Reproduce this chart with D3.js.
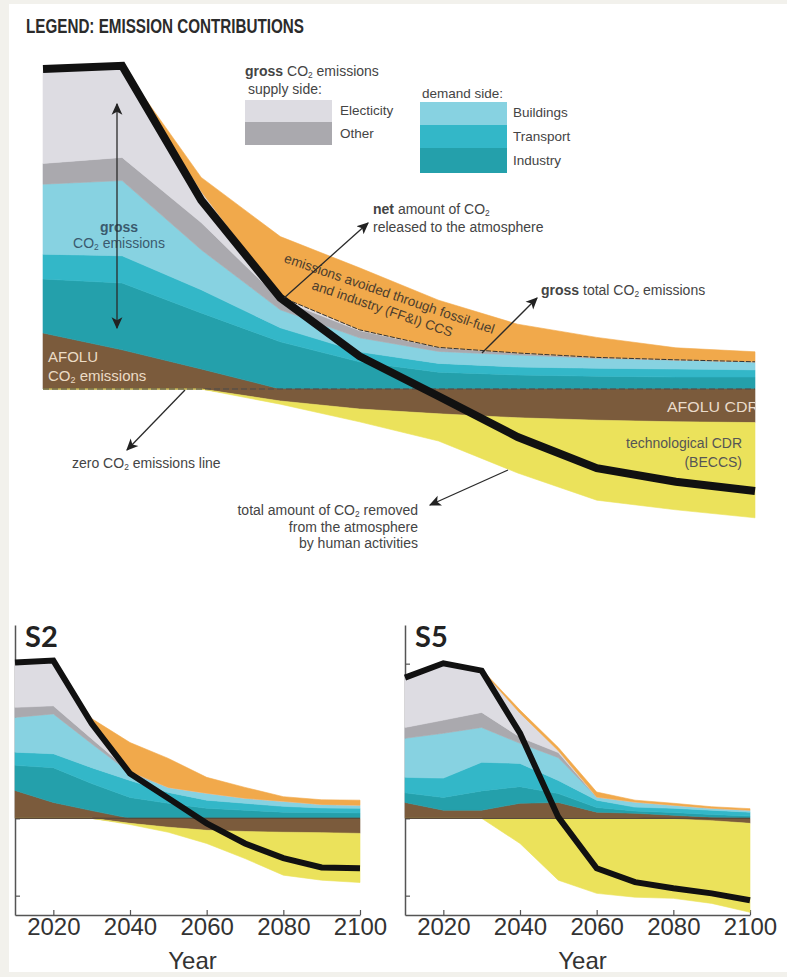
<!DOCTYPE html>
<html>
<head>
<meta charset="utf-8">
<script src="https://cdn.jsdelivr.net/npm/d3@7"></script>
<style>
  body { margin: 0; background: #fff; }
  svg { display: block; font-family: "Liberation Sans", Arial, sans-serif; }
</style>
</head>
<body>
<svg id="chart" width="787" height="977"></svg>
<script>
// ---- data (GtCO2/yr, schematic pathways) ----
const years = [2010, 2020, 2030, 2040, 2050, 2060, 2070, 2080, 2090, 2100];
const tickYears = [2020, 2040, 2060, 2080, 2100];

// Legend pathway
const topAfoluEmis   = [7.0, 4.9, 2.5, 0, 0, 0, 0, 0, 0, 0];
const topIndustry    = [6.75, 8.35, 7.0, 5.9, 3.4, 2.1, 1.75, 1.6, 1.5, 1.5];
const topTransport   = [3.1, 3.4, 2.9, 1.75, 1.25, 1.1, 1.0, 1.0, 1.0, 0.9];
const topBuildings   = [8.75, 9.4, 5.0, 2.25, 1.75, 1.5, 1.5, 1.25, 1.1, 1.0];
const topOther       = [2.6, 2.9, 3.4, 1.25, 0.9, 0.5, 0.25, 0.1, 0.05, 0];
const topElectricity = [11.6, 11.4, 3.9, 0.4, 0.1, 0, 0, 0, 0, 0];
const topCcs         = [0, 0, 1.75, 7.5, 7.75, 5.9, 3.6, 2.5, 1.5, 1.25];
const topAfoluCdr    = [0, 0, 0, -1.5, -2.5, -3.1, -3.6, -3.9, -4.1, -4.2];
const topBeccs       = [0, 0, 0, -0.4, -1.6, -3.4, -6.9, -10.0, -11.0, -11.9];
const topNet         = [40.0, 40.4, 23.6, 11.4, 4.1, -0.9, -6.0, -9.9, -11.6, -12.75];

// Scenario S2
const s2AfoluEmis   = [7.2, 4.1, 2.0, 0, 0, 0, 0, 0, 0, 0];
const s2Industry    = [6.5, 9.0, 7.0, 5.4, 3.9, 2.6, 2.1, 1.6, 1.5, 1.4];
const s2Transport   = [3.4, 3.6, 4.1, 4.4, 2.8, 2.1, 1.8, 1.5, 1.2, 1.2];
const s2Buildings   = [9.0, 10.3, 6.2, 2.0, 1.3, 1.8, 1.3, 1.3, 0.9, 0.8];
const s2Other       = [2.6, 2.1, 1.3, 0.3, 0, 0, 0, 0, 0, 0];
const s2Electricity = [11.4, 11.4, 4.4, 0, 0, 0, 0, 0, 0, 0];
const s2Ccs         = [0, 0, 0.8, 7.5, 7.5, 4.1, 2.8, 1.2, 1.2, 1.3];
const s2AfoluCdr    = [0, 0, 0, -1.3, -2.3, -3.1, -3.4, -3.6, -3.7, -3.9];
const s2Beccs       = [0, 0, 0, -0.3, -1.3, -3.4, -7.0, -11.1, -12.3, -12.7];
const s2Net         = [40.3, 40.8, 24.5, 11.6, 5.2, -1.3, -6.5, -10.3, -12.7, -12.9];

// Scenario S5
const s5AfoluEmis   = [4.1, 2.1, 2.1, 3.9, 4.1, 1.6, 1.3, 0.8, 0.3, 0];
const s5Industry    = [2.5, 3.3, 5.0, 4.3, 2.3, 1.2, 0.6, 0.7, 0.7, 0.6];
const s5Transport   = [4.0, 5.0, 7.4, 6.0, 3.4, 1.9, 1.0, 1.1, 1.1, 1.0];
const s5Buildings   = [10.1, 11.6, 9.0, 5.2, 5.9, 0.8, 1.3, 0.8, 0.5, 0.5];
const s5Other       = [2.8, 3.4, 3.9, 1.6, 1.3, 0, 0, 0, 0, 0];
const s5Electricity = [12.9, 14.7, 10.9, 6.2, 0.5, 0, 0, 0, 0, 0];
const s5Ccs         = [0, 0, 0.2, 0.8, 0.8, 1.3, 0.5, 0.5, 0.4, 0.4];
const s5AfoluCdr    = [0, 0, 0, 0, 0, 0, 0, -0.2, -0.6, -1.3];
const s5Beccs       = [0, 0, 0, -6.5, -16.0, -19.4, -20.4, -20.5, -21.4, -23.0];
const s5Net         = [36.4, 40.1, 38.2, 22.0, 0.3, -12.9, -16.5, -18.1, -19.4, -21.2];

// ---- styling ----
const posKeys = ["afoluEmis", "industry", "transport", "buildings", "other", "electricity", "ccs"];
const negKeys = ["afoluCdr", "beccs"];
const colors = {
  afoluEmis: "#7b5b3c", industry: "#24a0ab", transport: "#33b7c8", buildings: "#87d2e1",
  other: "#aaa9ae", electricity: "#dddce2", ccs: "#f1a94b", afoluCdr: "#7b5b3c", beccs: "#ebe25b"
};
const textCol = "#444";

function rowsFrom(arrs) {
  return years.map((yr, i) => {
    const r = { year: yr };
    for (const k of Object.keys(arrs)) r[k] = arrs[k][i];
    return r;
  });
}

// emissions stack upward from zero, removals stack downward
function signedOffset(series, order) {
  const n = series[0].length;
  for (let j = 0; j < n; ++j) {
    let up = 0, down = 0;
    for (const i of order) {
      const d = series[i][j];
      const v = d[1] - d[0];
      if (negKeys.includes(series[i].key)) { d[1] = down; down += v; d[0] = down; }
      else { d[0] = up; up += v; d[1] = up; }
    }
  }
}

const stack = d3.stack().keys(posKeys.concat(negKeys)).offset(signedOffset);

const svg = d3.select("#chart");

// page frame
svg.append("rect").attr("width", 787).attr("height", 977).attr("fill", "#f2f1ec");
svg.append("rect").attr("x", 9).attr("y", 4).attr("width", 778).attr("height", 968).attr("fill", "#fff");

// arrowhead
const defs = svg.append("defs");
defs.append("marker").attr("id", "arr").attr("viewBox", "0 0 10 10")
  .attr("refX", 9).attr("refY", 5).attr("markerUnits", "userSpaceOnUse")
  .attr("markerWidth", 12).attr("markerHeight", 12).attr("orient", "auto-start-reverse")
  .append("path").attr("d", "M0,0.5 L10,5 L0,9.5 L2.5,5 z").attr("fill", "#222");

// text with optional bold and subscript parts
function rich(g, x, y, parts, opt = {}) {
  const t = g.append("text").attr("x", x).attr("y", y)
    .attr("font-size", opt.size || 14).attr("fill", opt.fill || textCol)
    .attr("text-anchor", opt.anchor || "start");
  if (opt.transform) t.attr("transform", opt.transform);
  let shifted = false;
  for (const p of parts) {
    const s = t.append("tspan").text(p.t);
    if (p.b) s.attr("font-weight", "bold");
    if (p.sub) { s.attr("font-size", "0.6em").attr("dy", 2); shifted = true; }
    else if (shifted) { s.attr("dy", -2); shifted = false; }
  }
  return t;
}
const CO2 = [{ t: "CO" }, { t: "2", sub: true }];

function drawAreas(g, rows, x, y) {
  const series = stack(rows);
  const area = d3.area().x(d => x(d.data.year)).y0(d => y(d[0])).y1(d => y(d[1]));
  g.selectAll("path.layer").data(series).join("path")
    .attr("class", "layer")
    .attr("d", area)
    .attr("fill", s => colors[s.key])
    .attr("stroke", s => colors[s.key]).attr("stroke-width", 0.6);
  return series;
}

function arrow(g, x1, y1, x2, y2, both) {
  const l = g.append("line").attr("x1", x1).attr("y1", y1).attr("x2", x2).attr("y2", y2)
    .attr("stroke", "#2a2a2a").attr("stroke-width", 1.3).attr("marker-end", "url(#arr)");
  if (both) l.attr("marker-start", "url(#arr)");
}

// ================= legend pathway =================
const main = svg.append("g");
const xT = d3.scaleLinear().domain([2010, 2100]).range([43, 755]);
const yT = d3.scaleLinear().domain([0, 40]).range([389, 69]);

main.append("text").attr("x", 26).attr("y", 33).attr("font-size", 21).attr("font-weight", "bold")
  .attr("fill", "#2b2b2b").attr("textLength", 278).attr("lengthAdjust", "spacingAndGlyphs")
  .text("LEGEND: EMISSION CONTRIBUTIONS");

const topRows = rowsFrom({
  afoluEmis: topAfoluEmis, industry: topIndustry, transport: topTransport, buildings: topBuildings,
  other: topOther, electricity: topElectricity, ccs: topCcs, afoluCdr: topAfoluCdr, beccs: topBeccs
});
const topSeries = drawAreas(main, topRows, xT, yT);

// gross total emissions boundary (top of the energy stack)
const elec = topSeries.find(s => s.key === "electricity").filter(d => d.data.year >= 2040);
main.append("path")
  .attr("d", d3.line().x(d => xT(d.data.year)).y(d => yT(d[1]))(elec))
  .attr("fill", "none").attr("stroke", "#333").attr("stroke-width", 1).attr("stroke-dasharray", "5,1.5");

// zero line
main.append("line").attr("x1", xT(2010)).attr("x2", xT(2100)).attr("y1", yT(0)).attr("y2", yT(0))
  .attr("stroke", "#4a4a4a").attr("stroke-width", 1).attr("stroke-dasharray", "6,3");

// in-chart labels
rich(main, 119, 232, [{ t: "gross", b: true }], { anchor: "middle", fill: "#3a5a6e" });
rich(main, 119, 248, CO2.concat([{ t: " emissions" }]), { anchor: "middle", fill: "#3a5a6e" });
rich(main, 48, 362, [{ t: "AFOLU" }], { size: 15, fill: "#ecdcc6" });
rich(main, 48, 381, CO2.concat([{ t: " emissions" }]), { size: 15, fill: "#ecdcc6" });

main.append("clipPath").attr("id", "topclip").append("rect")
  .attr("x", 43).attr("y", 40).attr("width", 712).attr("height", 500);
main.append("text").attr("x", 667).attr("y", 412).attr("font-size", 14).attr("fill", "#eadccb")
  .attr("textLength", 92).attr("lengthAdjust", "spacingAndGlyphs")
  .attr("clip-path", "url(#topclip)").text("AFOLU CDR");

rich(main, 742, 448, [{ t: "technological CDR" }], { anchor: "end", fill: "#555" });
rich(main, 742, 467, [{ t: "(BECCS)" }], { anchor: "end", fill: "#555" });

rich(main, 388, 298, [{ t: "emissions avoided through fossil-fuel" }],
  { anchor: "middle", size: 13.5, fill: "#4d3e2e", transform: "rotate(19 388 298)" });
rich(main, 381, 313, [{ t: "and industry (FF&I) CCS" }],
  { anchor: "middle", size: 13.5, fill: "#4d3e2e", transform: "rotate(19 381 313)" });

// net emissions line
main.append("path")
  .attr("d", d3.line().x((d, i) => xT(years[i])).y(d => yT(d))(topNet))
  .attr("fill", "none").attr("stroke", "#111").attr("stroke-width", 8).attr("stroke-linejoin", "miter");

// legend boxes
const lg = main.append("g");
rich(lg, 245, 76, [{ t: "gross", b: true }, { t: " CO" }, { t: "2", sub: true }, { t: " emissions" }]);
rich(lg, 248, 94, [{ t: "supply side:" }]);
lg.append("rect").attr("x", 245).attr("y", 100).attr("width", 87).attr("height", 22).attr("fill", colors.electricity);
lg.append("rect").attr("x", 245).attr("y", 122).attr("width", 87).attr("height", 23).attr("fill", colors.other);
rich(lg, 340, 115, [{ t: "Electicity" }], { size: 13.5 });
rich(lg, 340, 138, [{ t: "Other" }], { size: 13.5 });
rich(lg, 422, 98, [{ t: "demand side:" }], { size: 13.5 });
lg.append("rect").attr("x", 420).attr("y", 102).attr("width", 87).attr("height", 23).attr("fill", colors.buildings);
lg.append("rect").attr("x", 420).attr("y", 125).attr("width", 87).attr("height", 23).attr("fill", colors.transport);
lg.append("rect").attr("x", 420).attr("y", 148).attr("width", 87).attr("height", 25).attr("fill", colors.industry);
rich(lg, 513, 117, [{ t: "Buildings" }], { size: 13.5 });
rich(lg, 513, 141, [{ t: "Transport" }], { size: 13.5 });
rich(lg, 513, 165, [{ t: "Industry" }], { size: 13.5 });

// annotations
rich(main, 373, 214, [{ t: "net", b: true }, { t: " amount of CO" }, { t: "2", sub: true }]);
rich(main, 373, 232, [{ t: "released to the atmosphere" }]);
rich(main, 541, 295, [{ t: "gross", b: true }, { t: " total CO" }, { t: "2", sub: true }, { t: " emissions" }]);
rich(main, 72, 468, [{ t: "zero CO" }, { t: "2", sub: true }, { t: " emissions line" }]);
rich(main, 418, 515, [{ t: "total amount of CO" }, { t: "2", sub: true }, { t: " removed" }], { anchor: "end" });
rich(main, 418, 532, [{ t: "from the atmosphere" }], { anchor: "end" });
rich(main, 418, 548, [{ t: "by human activities" }], { anchor: "end" });

arrow(main, 117, 104, 117, 328, true);
arrow(main, xT(2040) + 4, yT(topNet[3]), 368, 223);
arrow(main, 482, 353, 537, 298);
arrow(main, 185, yT(0) + 1, 127, 450);
arrow(main, 508, 470, 430, 505);

// ================= scenario panels =================
function scenario(x0, x1, label, arrs, net) {
  const g = svg.append("g");
  const x = d3.scaleLinear().domain([2010, 2100]).range([x0, x1]);
  const y = d3.scaleLinear().domain([-25, 50]).range([915, 625]);

  const ax = g.append("g").attr("transform", `translate(0,${y(-25)})`)
    .call(d3.axisBottom(x).tickValues(tickYears).tickSize(-5).tickSizeOuter(0)
      .tickPadding(3).tickFormat(d3.format("d")));
  const ay = g.append("g").attr("transform", `translate(${x0},0)`)
    .call(d3.axisLeft(y).tickValues([-20, 0, 20, 40]).tickSize(-5).tickSizeOuter(0).tickFormat(""));
  for (const a of [ax, ay]) {
    a.select(".domain").attr("stroke", "#555").attr("stroke-width", 1.5);
    a.selectAll(".tick line").attr("stroke", "#555").attr("stroke-width", 1.2);
  }
  ax.selectAll(".tick text").attr("font-size", 24).attr("fill", "#333")
    .attr("font-family", "'Liberation Sans', Arial, sans-serif");

  drawAreas(g, rowsFrom(arrs), x, y);

  g.append("line").attr("x1", x0).attr("x2", x1).attr("y1", y(0)).attr("y2", y(0))
    .attr("stroke", "#5a4a3a").attr("stroke-width", 1.2);

  g.append("path")
    .attr("d", d3.line().x((d, i) => x(years[i])).y(d => y(d))(net))
    .attr("fill", "none").attr("stroke", "#111").attr("stroke-width", 6).attr("stroke-linejoin", "miter");

  g.append("text").attr("x", x0 + 10).attr("y", 647).attr("font-size", 29).attr("font-weight", "bold")
    .attr("font-family", "Lato, 'Open Sans', sans-serif").attr("fill", "#222").text(label);
  g.append("text").attr("x", (x0 + x1) / 2 + 5).attr("y", 969).attr("text-anchor", "middle")
    .attr("font-size", 24).attr("fill", "#333").text("Year");
}

scenario(15, 360, "S2", {
  afoluEmis: s2AfoluEmis, industry: s2Industry, transport: s2Transport, buildings: s2Buildings,
  other: s2Other, electricity: s2Electricity, ccs: s2Ccs, afoluCdr: s2AfoluCdr, beccs: s2Beccs
}, s2Net);

scenario(405, 750, "S5", {
  afoluEmis: s5AfoluEmis, industry: s5Industry, transport: s5Transport, buildings: s5Buildings,
  other: s5Other, electricity: s5Electricity, ccs: s5Ccs, afoluCdr: s5AfoluCdr, beccs: s5Beccs
}, s5Net);
</script>
</body>
</html>
